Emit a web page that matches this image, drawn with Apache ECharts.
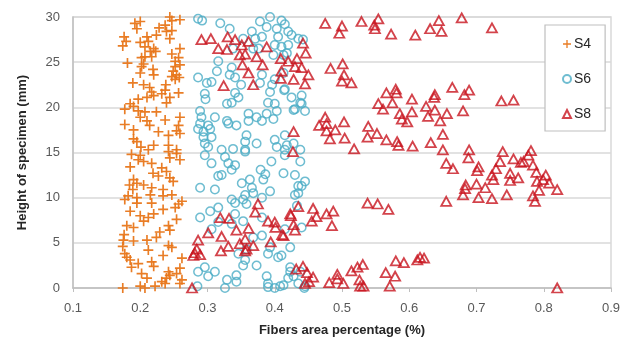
<!DOCTYPE html>
<html>
<head>
<meta charset="utf-8">
<title>Fibers area percentage vs. height</title>
<script src="https://cdn.jsdelivr.net/npm/echarts@6/dist/echarts.min.js"></script>
<style>
  html, body { margin: 0; padding: 0; background: #ffffff; }
  #chart { width: 631px; height: 342px; }
</style>
</head>
<body>
<div id="chart"></div>
<script>
// Series names
const seriesNames = ['S4', 'S6', 'S8'];

// Axis tick values
const xTicks = [0.1, 0.2, 0.3, 0.4, 0.5, 0.6, 0.7, 0.8, 0.9];
const yTicks = [0, 5, 10, 15, 20, 25, 30];

// S4: [fibers area percentage, height (mm)]
const s4Data = [
  [0.244, 30.0], [0.247, 29.6], [0.259, 29.7], [0.200, 29.5], [0.192, 29.3], [0.195, 28.7],
  [0.237, 29.1], [0.228, 28.8], [0.247, 28.5], [0.239, 28.4], [0.176, 27.8], [0.174, 26.8],
  [0.179, 27.3], [0.210, 27.8], [0.224, 28.0], [0.244, 27.6], [0.200, 27.2], [0.212, 27.3],
  [0.207, 26.7], [0.220, 26.5], [0.223, 26.2], [0.215, 26.2], [0.259, 26.5], [0.247, 25.9],
  [0.207, 25.6], [0.202, 25.5], [0.217, 25.6], [0.181, 24.9], [0.205, 24.8], [0.257, 25.5],
  [0.252, 24.5], [0.259, 24.7], [0.252, 25.1], [0.200, 23.8], [0.219, 24.2], [0.220, 23.6],
  [0.202, 24.5], [0.249, 24.0], [0.254, 23.6], [0.258, 23.3], [0.252, 23.1], [0.247, 23.4],
  [0.189, 22.7], [0.205, 22.5], [0.214, 22.2], [0.217, 21.7], [0.220, 21.3], [0.238, 22.5],
  [0.237, 21.9], [0.232, 21.5], [0.257, 21.6], [0.244, 21.1], [0.239, 20.5], [0.210, 21.1],
  [0.197, 20.9], [0.185, 20.4], [0.177, 19.8], [0.190, 20.1], [0.197, 19.6], [0.207, 19.5],
  [0.200, 18.9], [0.210, 18.5], [0.224, 19.5], [0.237, 18.6], [0.259, 18.9], [0.257, 18.0],
  [0.254, 17.4], [0.177, 18.1], [0.190, 17.5], [0.214, 18.0], [0.227, 17.3], [0.242, 16.9],
  [0.190, 16.5], [0.195, 16.2], [0.201, 15.6], [0.220, 15.8], [0.242, 15.8], [0.259, 17.1],
  [0.254, 15.3], [0.212, 15.3], [0.187, 14.8], [0.200, 14.7], [0.197, 14.2], [0.205, 14.0],
  [0.217, 13.8], [0.242, 15.1], [0.254, 14.9], [0.259, 14.2], [0.244, 14.4], [0.185, 13.4],
  [0.232, 13.3], [0.239, 12.9], [0.219, 12.7], [0.227, 12.4], [0.244, 12.2], [0.249, 11.8],
  [0.190, 12.0], [0.184, 11.4], [0.195, 11.6], [0.205, 11.4], [0.189, 10.9], [0.217, 11.1],
  [0.234, 10.9], [0.215, 10.3], [0.182, 10.2], [0.177, 9.8], [0.195, 10.0], [0.234, 10.2],
  [0.247, 10.3], [0.262, 9.6], [0.257, 9.3], [0.252, 8.9], [0.195, 9.4], [0.217, 9.4],
  [0.185, 8.5], [0.200, 8.0], [0.212, 7.8], [0.220, 8.2], [0.205, 7.4], [0.234, 8.7],
  [0.254, 7.6], [0.180, 6.9], [0.190, 6.7], [0.242, 6.9], [0.244, 6.4], [0.229, 6.2],
  [0.224, 5.6], [0.176, 5.9], [0.175, 5.3], [0.190, 5.2], [0.210, 5.3], [0.212, 4.2],
  [0.247, 4.5], [0.242, 4.7], [0.174, 4.6], [0.177, 3.8], [0.180, 3.4], [0.185, 3.1],
  [0.234, 3.6], [0.262, 3.3], [0.197, 2.7], [0.217, 2.9], [0.220, 2.4], [0.259, 2.2],
  [0.202, 1.6], [0.242, 1.8], [0.254, 1.6], [0.187, 2.3], [0.210, 1.1], [0.239, 1.1],
  [0.244, 1.4], [0.232, 0.7], [0.262, 0.9], [0.237, 0.5], [0.174, 0.0], [0.200, 0.2],
  [0.207, 0.0], [0.222, 0.2], [0.259, 0.5]
];

// S6: [fibers area percentage, height (mm)]
const s6Data = [
  [0.286, 29.8], [0.292, 29.6], [0.319, 29.3], [0.333, 28.7], [0.378, 29.5], [0.393, 30.0],
  [0.410, 29.6], [0.415, 29.2], [0.388, 28.9], [0.366, 28.4], [0.371, 27.6], [0.381, 27.8],
  [0.403, 28.7], [0.405, 27.8], [0.420, 28.4], [0.425, 28.0], [0.442, 27.5], [0.400, 26.9],
  [0.410, 26.7], [0.420, 26.9], [0.368, 26.5], [0.376, 26.5], [0.338, 26.5], [0.353, 27.6],
  [0.398, 25.8], [0.413, 25.8], [0.316, 25.1], [0.314, 24.0], [0.286, 23.3], [0.306, 22.8],
  [0.336, 24.4], [0.333, 23.6], [0.341, 23.3], [0.350, 22.5], [0.381, 23.6], [0.378, 22.7],
  [0.396, 22.5], [0.400, 23.1], [0.414, 21.9], [0.393, 21.7], [0.425, 21.1], [0.440, 21.3],
  [0.341, 21.6], [0.346, 21.1], [0.336, 20.5], [0.329, 20.4], [0.296, 21.5], [0.297, 20.9],
  [0.289, 19.6], [0.311, 18.9], [0.329, 18.5], [0.361, 19.3], [0.373, 18.9], [0.388, 19.3],
  [0.403, 19.6], [0.390, 20.5], [0.400, 20.4], [0.428, 19.7], [0.440, 20.4], [0.445, 19.6],
  [0.361, 18.5], [0.381, 18.5], [0.398, 18.7], [0.301, 18.0], [0.304, 17.6], [0.286, 17.6],
  [0.331, 18.2], [0.343, 18.0], [0.306, 16.7], [0.294, 16.7], [0.301, 15.6], [0.321, 15.3],
  [0.338, 15.4], [0.358, 16.9], [0.356, 16.2], [0.373, 16.0], [0.356, 15.3], [0.400, 16.4],
  [0.415, 16.9], [0.403, 15.6], [0.418, 15.8], [0.438, 15.3], [0.299, 22.7], [0.291, 18.9],
  [0.294, 17.3], [0.289, 18.2], [0.296, 16.0], [0.435, 27.6], [0.418, 26.0], [0.413, 23.8],
  [0.415, 22.0], [0.438, 20.5], [0.430, 19.8], [0.428, 16.0], [0.415, 15.3],
  [0.296, 14.7], [0.306, 13.8], [0.326, 14.5], [0.331, 13.8], [0.341, 13.6], [0.336, 13.1],
  [0.316, 12.4], [0.321, 12.5], [0.356, 15.1], [0.379, 13.1], [0.386, 12.6], [0.383, 12.0],
  [0.395, 14.0], [0.413, 12.7], [0.415, 14.7], [0.430, 12.5], [0.438, 14.0], [0.445, 11.8],
  [0.435, 11.3], [0.430, 10.3], [0.289, 11.1], [0.311, 10.9], [0.351, 11.6], [0.363, 12.0],
  [0.366, 11.1], [0.368, 10.5], [0.356, 10.3], [0.353, 9.8], [0.336, 9.8], [0.341, 9.4],
  [0.358, 9.3], [0.393, 10.7], [0.381, 10.0], [0.289, 7.8], [0.304, 8.5], [0.316, 8.9],
  [0.316, 7.3], [0.306, 6.5], [0.336, 7.1], [0.341, 8.2], [0.353, 7.4], [0.381, 5.8],
  [0.368, 5.6], [0.381, 7.8], [0.440, 6.7], [0.393, 4.5], [0.390, 3.8], [0.405, 3.4],
  [0.423, 4.5], [0.346, 3.8], [0.356, 3.1], [0.353, 2.5], [0.373, 2.5], [0.358, 4.3],
  [0.286, 1.8], [0.296, 2.3], [0.311, 1.8], [0.301, 1.3], [0.329, 0.9], [0.343, 1.4],
  [0.343, 0.7], [0.326, 0.0], [0.388, 1.3], [0.390, 0.5], [0.408, 0.2], [0.420, 1.1],
  [0.423, 1.8], [0.438, 1.8], [0.435, 0.5], [0.440, 11.3], [0.435, 10.5], [0.433, 9.1],
  [0.415, 6.5], [0.410, 3.6], [0.428, 1.3], [0.413, 0.3], [0.445, 0.2], [0.423, 2.3],
  [0.285, 0.2], [0.390, 0.1], [0.400, 0.0], [0.444, 0.0]
];

// S8: [fibers area percentage, height (mm)]
const s8Data = [
  [0.475, 29.3], [0.500, 29.0], [0.496, 28.2], [0.529, 29.5], [0.548, 29.1], [0.554, 29.8],
  [0.549, 28.7], [0.573, 28.1], [0.609, 28.0], [0.631, 28.7], [0.644, 29.6], [0.648, 28.4],
  [0.678, 29.9], [0.723, 28.8], [0.442, 27.1], [0.446, 26.0], [0.433, 25.4], [0.410, 24.0],
  [0.430, 24.5], [0.440, 24.4], [0.450, 23.6], [0.428, 23.1], [0.445, 22.6], [0.483, 24.3],
  [0.501, 24.8], [0.503, 23.6], [0.500, 22.9], [0.514, 22.7], [0.566, 21.6], [0.580, 22.0],
  [0.581, 21.6], [0.604, 20.9], [0.638, 21.4], [0.637, 21.1], [0.664, 22.2], [0.689, 21.9],
  [0.682, 21.4], [0.737, 20.7], [0.755, 20.8], [0.554, 20.4], [0.561, 19.8], [0.575, 20.5],
  [0.586, 19.3], [0.589, 18.7], [0.597, 18.4], [0.604, 19.5], [0.625, 20.1], [0.628, 19.0],
  [0.638, 19.7], [0.646, 18.5], [0.656, 19.3], [0.680, 19.6], [0.475, 18.9], [0.466, 18.0],
  [0.477, 18.2], [0.477, 17.4], [0.490, 17.5], [0.503, 18.4], [0.482, 16.5], [0.504, 16.6],
  [0.539, 17.9], [0.538, 16.7], [0.552, 17.1], [0.566, 16.4], [0.582, 16.2], [0.584, 15.8],
  [0.605, 15.7], [0.632, 16.1], [0.650, 17.0], [0.428, 17.3], [0.518, 15.4], [0.650, 15.3],
  [0.689, 15.3], [0.739, 15.1], [0.781, 15.2], [0.427, 15.1], [0.688, 14.4], [0.655, 13.8],
  [0.665, 13.2], [0.703, 13.4], [0.701, 13.0], [0.735, 14.0], [0.755, 14.3], [0.766, 13.9],
  [0.777, 14.7], [0.784, 13.6], [0.729, 13.2], [0.723, 12.5], [0.725, 12.0], [0.750, 12.7],
  [0.750, 11.9], [0.762, 12.2], [0.789, 12.8], [0.790, 11.8], [0.684, 11.4], [0.683, 11.0],
  [0.700, 11.5], [0.713, 11.1], [0.680, 10.3], [0.703, 10.0], [0.723, 9.9], [0.745, 10.3],
  [0.655, 9.6], [0.784, 10.2], [0.787, 9.6], [0.538, 9.4], [0.553, 9.3], [0.569, 8.7],
  [0.435, 9.0], [0.457, 8.8], [0.424, 8.0], [0.462, 7.9], [0.455, 7.4], [0.477, 8.2],
  [0.487, 8.5], [0.485, 6.9], [0.428, 7.0], [0.430, 6.4], [0.413, 5.8], [0.580, 3.0],
  [0.592, 2.8], [0.612, 3.1], [0.616, 3.4], [0.622, 3.3], [0.432, 2.1], [0.442, 2.4],
  [0.448, 1.7], [0.457, 1.2], [0.451, 0.7], [0.481, 0.6], [0.493, 1.5], [0.493, 1.0],
  [0.502, 0.5], [0.514, 1.9], [0.523, 2.3], [0.531, 2.6], [0.526, 0.9], [0.527, 0.2],
  [0.532, 0.2], [0.565, 1.7], [0.579, 1.3], [0.571, 0.2], [0.770, 14.0], [0.803, 12.5],
  [0.799, 12.0], [0.808, 11.6], [0.820, 10.9], [0.793, 10.8], [0.820, 0.0],
  [0.291, 27.5], [0.305, 27.6], [0.330, 27.8], [0.316, 26.5], [0.329, 26.4], [0.341, 27.5],
  [0.351, 26.9], [0.361, 27.3], [0.348, 25.8], [0.356, 25.9], [0.373, 25.6], [0.388, 26.7],
  [0.382, 24.7], [0.352, 24.7], [0.361, 23.8], [0.368, 22.5], [0.324, 22.4], [0.409, 25.4],
  [0.409, 23.2], [0.420, 25.1], [0.375, 9.3], [0.371, 8.4], [0.319, 7.8], [0.332, 7.7],
  [0.301, 6.1], [0.286, 5.3], [0.321, 5.7], [0.343, 6.4], [0.361, 6.6], [0.390, 7.4],
  [0.400, 7.3], [0.401, 6.7], [0.411, 5.9], [0.423, 8.2], [0.281, 3.9], [0.279, 3.6],
  [0.289, 3.7], [0.284, 4.3], [0.320, 4.1], [0.331, 4.6], [0.348, 4.9], [0.356, 5.4],
  [0.358, 4.3], [0.368, 4.7], [0.356, 4.1], [0.394, 5.1], [0.277, 0.0], [0.445, 0.5]
];

// Colours
const orange = '#E8761A';
const blue = '#4BACC6';
const red = '#C8141E';

// Plus sign outline used for S4
const plusPath = 'path://M5.0,0H7.0V5.0H12V7.0H7.0V12H5.0V7.0H0V5.0H5.0Z';

const chart = echarts.init(document.getElementById('chart'), null, { renderer: 'canvas' });

const labelFont = { fontFamily: 'Liberation Sans, Arial, sans-serif', fontSize: 13, color: '#595959' };

chart.setOption({
  animation: false,
  backgroundColor: '#ffffff',
  textStyle: { fontFamily: 'Liberation Sans, Arial, sans-serif' },
  grid: {
    left: 73, right: 20, top: 17, bottom: 50,
    show: true, borderColor: '#D9D9D9', borderWidth: 1.5, backgroundColor: 'transparent'
  },
  legend: {
    orient: 'vertical',
    left: 545, top: 25,
    data: seriesNames,
    backgroundColor: '#ffffff',
    borderColor: '#BFBFBF', borderWidth: 1.2, borderRadius: 0,
    padding: [12, 14, 10, 17],
    itemGap: 21,
    itemWidth: 8, itemHeight: 8,
    textStyle: { fontFamily: 'Liberation Sans, Arial, sans-serif', fontSize: 14, color: '#262626', padding: [0, 0, 0, -2] }
  },
  xAxis: {
    type: 'value',
    min: xTicks[0], max: xTicks[xTicks.length - 1], interval: 0.1,
    name: 'Fibers area percentage (%)',
    nameLocation: 'middle', nameGap: 36,
    nameTextStyle: { fontFamily: 'Liberation Sans, Arial, sans-serif', fontSize: 13, fontWeight: 'bold', color: '#262626' },
    axisLine: { show: true, lineStyle: { color: '#BFBFBF', width: 1.5 } },
    axisTick: { show: true, length: 4, inside: false, lineStyle: { color: '#BFBFBF' } },
    splitLine: { show: false },
    axisLabel: Object.assign({ margin: 14, formatter: v => v.toFixed(1) }, labelFont)
  },
  yAxis: {
    type: 'value',
    min: yTicks[0], max: yTicks[yTicks.length - 1], interval: 5,
    name: 'Height of specimen (mm)',
    nameLocation: 'middle', nameGap: 44, nameRotate: 90,
    nameTextStyle: { fontFamily: 'Liberation Sans, Arial, sans-serif', fontSize: 13, fontWeight: 'bold', color: '#262626' },
    axisLine: { show: true, lineStyle: { color: '#BFBFBF', width: 1.5 } },
    axisTick: { show: false },
    splitLine: { show: true, lineStyle: { color: '#D9D9D9', width: 1.5 } },
    axisLabel: Object.assign({ margin: 13, formatter: v => String(v) }, labelFont)
  },
  series: [
    {
      name: seriesNames[0], type: 'scatter', data: s4Data,
      symbol: plusPath, symbolSize: 10,
      itemStyle: { color: orange, opacity: 0.95 }
    },
    {
      name: seriesNames[1], type: 'scatter', data: s6Data,
      symbol: 'circle', symbolSize: 8.5,
      itemStyle: { color: 'rgba(255,255,255,0)', borderColor: blue, borderWidth: 1.5 }
    },
    {
      name: seriesNames[2], type: 'scatter', data: s8Data,
      symbol: 'triangle', symbolSize: [10, 9],
      itemStyle: { color: 'rgba(255,255,255,0)', borderColor: red, borderWidth: 1.8 }
    }
  ]
});
</script>
</body>
</html>
